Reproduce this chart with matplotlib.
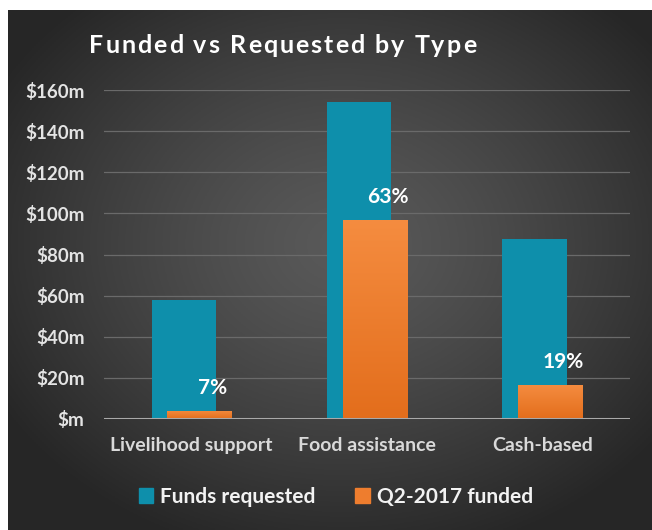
import numpy as np
import matplotlib.pyplot as plt
from matplotlib.patches import Rectangle

plt.rcParams['font.family'] = ['Lato', 'DejaVu Sans']
plt.rcParams['font.weight'] = 'bold'

#
# data ($ millions)
categories = ['Livelihood support', 'Food assistance', 'Cash-based']
requested = [58, 154, 87.5]
funded = [4.1, 97, 16.6]
pct_labels = ['7%', '63%', '19%']
series_names = ['Funds requested', 'Q2-2017 funded']
yticks = [0, 20, 40, 60, 80, 100, 120, 140, 160]
ytick_labels = ['$m', '$20m', '$40m', '$60m', '$80m', '$100m', '$120m', '$140m', '$160m']
title = 'Funded vs Requested by Type'

teal = '#0e8fab'
orange = '#ee7d2e'

W, H = 652, 530
fig = plt.figure(figsize=(W / 100, H / 100), dpi=100, facecolor='white')

#
# dark radial-gradient panel behind everything
bg = fig.add_axes([8 / W, 0, 1 - 8 / W, 1 - 10 / H])
yy, xx = np.mgrid[0:1:260j, 0:1:320j]
r = np.sqrt(((xx - 0.52) / 0.62) ** 2 + ((yy - 0.45) / 0.62) ** 2)
val = 0.35 - (0.35 - 0.15) * np.clip(r, 0, 1) ** 1.3
bg.imshow(np.dstack([val, val, val]), aspect='auto', extent=(0, 1, 0, 1))
bg.set_axis_off()

#
# main axes
ax = fig.add_axes([104 / W, (H - 419) / H, (630 - 104) / W, (419 - 90) / H])
ax.set_facecolor('none')
x = np.arange(len(categories))
width = 0.366
off = 0.045

ax.bar(x - off, requested, width, color=teal, zorder=3)
obars = ax.bar(x + off, funded, width, color=orange, zorder=4)

# vertical gradient on the orange bars
grad = np.linspace(0, 1, 100).reshape(-1, 1)
top_c = np.array([0.96, 0.55, 0.25])
bot_c = np.array([0.89, 0.43, 0.11])
img = top_c * (1 - grad[..., None]) + bot_c * grad[..., None]
img = img.reshape(100, 1, 3)
for b in obars:
    im = ax.imshow(img, aspect='auto', zorder=5,
                   extent=(b.get_x(), b.get_x() + b.get_width(), 0, b.get_height()))
    im.set_clip_path(b)

for xi, f, lab in zip(x, funded, pct_labels):
    ax.annotate(lab, (xi + off + 0.074, f), xytext=(0, 9), textcoords='offset points',
                ha='center', va='bottom', color='white', fontsize=15, fontweight='bold', zorder=6)

ax.set_xlim(-0.5, 2.5)
ax.set_ylim(0, 160)
ax.set_yticks(yticks)
ax.set_yticklabels(ytick_labels)
ax.set_xticks(x)
ax.set_xticklabels(categories)
ax.yaxis.grid(True, color='#6a6a6a', lw=0.9, zorder=0)
ax.set_axisbelow(True)
ax.axhline(0, color='#a9a9a9', lw=2.2, zorder=6)
for s in ax.spines.values():
    s.set_visible(False)
ax.tick_params(axis='y', length=0, pad=14, labelsize=13.5, labelcolor='#e4e4e4')
ax.tick_params(axis='x', length=0, pad=13, labelsize=14, labelcolor='#d9d9d9')

#
# legend
handles = [Rectangle((0, 0), 1, 1, color=teal), Rectangle((0, 0), 1, 1, color=orange)]
leg = fig.legend(handles, series_names, loc='center', bbox_to_anchor=(336 / W, 33 / H),
                 ncol=2, frameon=False, fontsize=15, handlelength=0.7, handleheight=0.7,
                 handletextpad=0.35, columnspacing=1.9)
for t in leg.get_texts():
    t.set_color('#f2f2f2')
    t.set_fontweight('bold')

#
# title with letter spacing, laid out char by char
renderer = fig.canvas.get_renderer()
tx0, tx1, base = 89, 476, H - 53
fs = 18
chars = []
widths = []
for ch in title:
    t = fig.text(0, 0, ch, fontsize=fs, fontweight='bold', color='white',
                 va='baseline', ha='left')
    widths.append(t.get_window_extent(renderer).width if ch != ' ' else 0)
    chars.append(t)
sp = fig.text(0, 0, 'a a', fontsize=fs, fontweight='bold')
sp2 = fig.text(0, 0, 'aa', fontsize=fs, fontweight='bold')
space_w = sp.get_window_extent(renderer).width - sp2.get_window_extent(renderer).width
sp.remove()
sp2.remove()
widths = [w if ch != ' ' else space_w for w, ch in zip(widths, title)]
track = (tx1 - tx0 - sum(widths)) / (len(title) - 1)
cx = tx0
for t, w in zip(chars, widths):
    t.set_position((cx / W, base / H))
    cx += w + track

fig.savefig('out.png', dpi=100, facecolor=fig.get_facecolor())
